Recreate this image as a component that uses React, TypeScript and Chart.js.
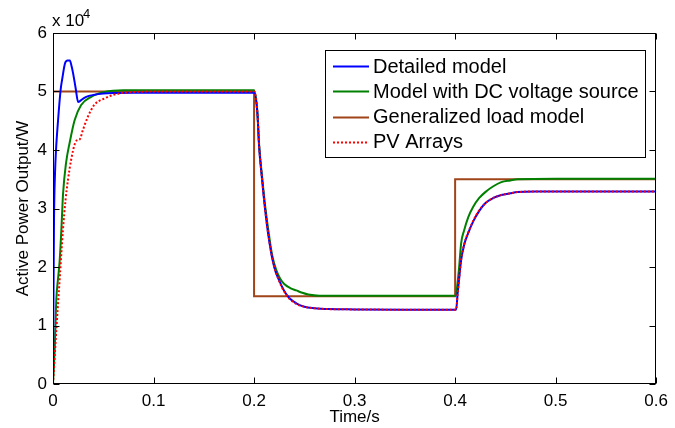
import React, { useEffect, useRef } from 'react';
import { Chart, registerables } from 'chart.js';

Chart.register(...registerables);

const FONT = 'Arial, "Liberation Sans", Helvetica, sans-serif';

// ---- data (time in s, active power in W) ----
const detailedModel: [number, number][] = [
  [0, 0], [0.0005, 15000], [0.001, 28000], [0.002, 36000], [0.003, 40000], [0.005, 45000],
  [0.0076, 50300], [0.0095, 52500], [0.0119, 54800], [0.0145, 55300], [0.0168, 55300],
  [0.0185, 54300], [0.02, 53100], [0.0225, 50600], [0.025, 48200], [0.03, 48800],
  [0.035, 49200], [0.04, 49400], [0.05, 49650], [0.06, 49750], [0.08, 49800], [0.15, 49800],
  [0.2, 49800], [0.2033, 46300], [0.205, 40600], [0.208, 34900], [0.211, 29800], [0.215, 24500],
  [0.22, 20000], [0.225, 17700], [0.23, 15900], [0.235, 14700], [0.242, 13800], [0.25, 13200],
  [0.26, 12950], [0.275, 12800], [0.3, 12750], [0.35, 12700], [0.4, 12700], [0.401, 12700],
  [0.4025, 15500], [0.404, 18000], [0.406, 21200], [0.409, 23800], [0.413, 25800],
  [0.418, 27800], [0.424, 29600], [0.43, 30900], [0.438, 31800], [0.446, 32300],
  [0.455, 32600], [0.462, 32800], [0.48, 32900], [0.52, 32900], [0.6, 32900],
];

const dcSourceModel: [number, number][] = [
  [0, 0], [0.0017, 6000], [0.0033, 14500], [0.005, 18000], [0.0066, 21000], [0.0083, 26300],
  [0.01, 32500], [0.013, 37800], [0.0165, 41200], [0.0215, 45100], [0.028, 47700],
  [0.038, 49100], [0.051, 49900], [0.07, 50200], [0.2, 50200], [0.2033, 46500], [0.205, 41000],
  [0.208, 35400], [0.211, 30500], [0.215, 25300], [0.218, 22000], [0.222, 19500],
  [0.226, 18000], [0.23, 17100], [0.236, 16400], [0.242, 16000], [0.248, 15600],
  [0.254, 15300], [0.265, 15100], [0.3, 15100], [0.4, 15100], [0.401, 15300], [0.402, 16600],
  [0.404, 20000], [0.406, 24100], [0.409, 26300], [0.413, 28500], [0.418, 30300],
  [0.424, 31800], [0.43, 32800], [0.438, 33800], [0.446, 34500], [0.455, 34800],
  [0.462, 35000], [0.5, 35100], [0.6, 35100],
];

const generalizedLoadModel: [number, number][] = [
  [0, 0], [0, 50000], [0.2, 50000], [0.2, 15000], [0.4, 15000], [0.4, 35000], [0.6, 35000],
];

const pvArrays: [number, number][] = [
  [0, 0], [0.0033, 9200], [0.0066, 17800], [0.0099, 26300], [0.0125, 31500], [0.0149, 34900],
  [0.018, 38300], [0.022, 41200], [0.0245, 41700], [0.0265, 41800], [0.0297, 43400],
  [0.0347, 45700], [0.041, 47700], [0.051, 48800], [0.064, 49600], [0.08, 49900],
  [0.1, 50000], [0.2, 50000], [0.2033, 46400], [0.205, 40800], [0.208, 35000], [0.211, 29900],
  [0.215, 24600], [0.22, 20100], [0.225, 17600], [0.23, 15800], [0.235, 14600],
  [0.242, 13700], [0.25, 13200], [0.26, 12950], [0.275, 12800], [0.3, 12750], [0.35, 12700],
  [0.4, 12700], [0.401, 12700], [0.4025, 15400], [0.404, 18000], [0.406, 21300],
  [0.409, 23900], [0.413, 25900], [0.418, 27900], [0.424, 29700], [0.43, 30900],
  [0.438, 31800], [0.446, 32300], [0.455, 32600], [0.462, 32800], [0.48, 32900], [0.6, 32900],
];

const seriesLabels = ['Detailed model', 'Model with DC voltage source', 'Generalized load model', 'PV Arrays'];
const xTickValues = [0, 0.1, 0.2, 0.3, 0.4, 0.5, 0.6];
const yTickValues = [0, 10000, 20000, 30000, 40000, 50000, 60000];
const xTitle = 'Time/s';
const yTitle = 'Active Power Output/W';

const toPoints = (arr: [number, number][]) => arr.map(([x, y]) => ({ x, y }));

const framePlugin = {
  id: 'frame',
  afterDraw(chart: any) {
    const { ctx, chartArea: a, scales } = chart;
    const xs = scales.x;
    const ys = scales.y;
    ctx.save();
    ctx.strokeStyle = '#000';
    ctx.lineWidth = 1;
    const L = Math.round(a.left) + 0.5;
    const R = Math.round(a.right) - 0.5;
    const T = Math.round(a.top) + 0.5;
    const B = Math.round(a.bottom) - 0.5;
    ctx.strokeRect(L, T, R - L, B - T);
    ctx.beginPath();
    xTickValues.forEach((v) => {
      const p = Math.round(xs.getPixelForValue(v)) + 0.5;
      ctx.moveTo(p, B); ctx.lineTo(p, B - 6);
      ctx.moveTo(p, T); ctx.lineTo(p, T + 6);
    });
    yTickValues.forEach((v) => {
      const p = Math.round(ys.getPixelForValue(v)) + 0.5;
      ctx.moveTo(L, p); ctx.lineTo(L + 6, p);
      ctx.moveTo(R, p); ctx.lineTo(R - 6, p);
    });
    ctx.stroke();

    // legend
    const bx = 325.5, by = 50.5, bw = 320, bh = 107;
    ctx.fillStyle = '#fff';
    ctx.fillRect(bx, by, bw, bh);
    ctx.strokeStyle = '#000';
    ctx.lineWidth = 1;
    ctx.strokeRect(bx, by, bw, bh);
    ctx.font = `20px ${FONT}`;
    ctx.textAlign = 'left';
    ctx.textBaseline = 'middle';
    chart.data.datasets.forEach((ds: any, i: number) => {
      const yy = 66 + i * 25.3;
      ctx.save();
      ctx.strokeStyle = ds.borderColor;
      ctx.lineWidth = ds.borderWidth;
      ctx.setLineDash(ds.borderDash || []);
      ctx.beginPath();
      ctx.moveTo(333, Math.round(yy) + 0.5);
      ctx.lineTo(369, Math.round(yy) + 0.5);
      ctx.stroke();
      ctx.restore();
      ctx.fillStyle = '#000';
      ctx.fillText(ds.label, 373, yy + 1);
    });

    // titles
    ctx.fillStyle = '#000';
    ctx.font = `17px ${FONT}`;
    ctx.textAlign = 'center';
    ctx.textBaseline = 'middle';
    ctx.fillText(xTitle, (a.left + a.right) / 2, 417);
    ctx.save();
    ctx.translate(23, (a.top + a.bottom) / 2);
    ctx.rotate(-Math.PI / 2);
    ctx.fillText(yTitle, 0, 0);
    ctx.restore();

    // exponent
    ctx.textAlign = 'left';
    ctx.fillText('x 10', 52, 21);
    ctx.font = `13px ${FONT}`;
    ctx.fillText('4', 83, 14);
    ctx.restore();
  },
};

export default function App() {
  const ref = useRef<HTMLCanvasElement | null>(null);

  useEffect(() => {
    if (!ref.current) return;
    const chart = new Chart(ref.current, {
      type: 'line',
      data: {
        datasets: [
          {
            label: seriesLabels[0],
            data: toPoints(detailedModel),
            borderColor: '#0000FF',
            borderWidth: 2,
            pointRadius: 0,
            cubicInterpolationMode: 'monotone',
            order: 1,
          },
          {
            label: seriesLabels[1],
            data: toPoints(dcSourceModel),
            borderColor: '#008000',
            borderWidth: 2,
            pointRadius: 0,
            cubicInterpolationMode: 'monotone',
            order: 2,
          },
          {
            label: seriesLabels[2],
            data: toPoints(generalizedLoadModel),
            borderColor: '#A0441A',
            borderWidth: 2,
            pointRadius: 0,
            tension: 0,
            order: 3,
          },
          {
            label: seriesLabels[3],
            data: toPoints(pvArrays),
            borderColor: '#FF0000',
            borderWidth: 2,
            borderDash: [2, 2],
            pointRadius: 0,
            cubicInterpolationMode: 'monotone',
            order: 0,
          },
        ] as any,
      },
      options: {
        responsive: false,
        devicePixelRatio: 1,
        animation: false,
        parsing: false as any,
        layout: { padding: { left: 0, right: 16, top: 33, bottom: 0 } },
        plugins: {
          legend: { display: false },
          tooltip: { enabled: false },
          title: { display: false },
        },
        scales: {
          x: {
            type: 'linear',
            min: 0,
            max: 0.6,
            afterFit: (s: any) => { s.height = 44; },
            afterBuildTicks: (s: any) => { s.ticks = xTickValues.map((v) => ({ value: v })); },
            ticks: {
              color: '#000',
              font: { family: FONT, size: 17 },
              padding: 7,
              maxRotation: 0,
              autoSkip: false,
              callback: (v: any) => (v === 0 ? '0' : String(Math.round(Number(v) * 10) / 10)),
            },
            grid: { display: false, drawTicks: false },
            border: { display: false },
          },
          y: {
            type: 'linear',
            min: 0,
            max: 60000,
            afterFit: (s: any) => { s.width = 53; },
            afterBuildTicks: (s: any) => { s.ticks = yTickValues.map((v) => ({ value: v })); },
            ticks: {
              color: '#000',
              font: { family: FONT, size: 17 },
              padding: 6,
              autoSkip: false,
              callback: (v: any) => String(Number(v) / 10000),
            },
            grid: { display: false, drawTicks: false },
            border: { display: false },
          },
        },
      } as any,
      plugins: [framePlugin],
    });
    return () => chart.destroy();
  }, []);

  return (
    <div style={{ position: 'absolute', left: 0, top: 0, width: 675, height: 428, background: '#fff' }}>
      <canvas ref={ref} width={675} height={428} style={{ display: 'block' }} />
    </div>
  );
}
